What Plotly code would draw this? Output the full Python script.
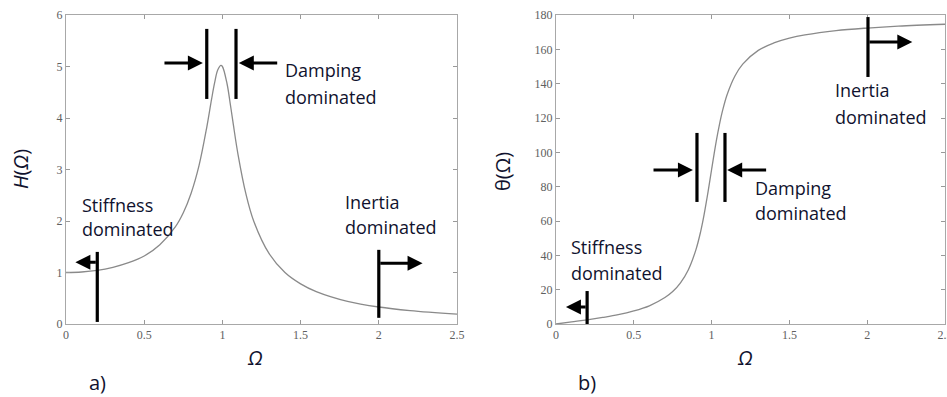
import plotly.graph_objects as go

# ---------------- data ----------------
omega = [0.0, 0.1, 0.2, 0.3, 0.4, 0.5, 0.6, 0.7, 0.75, 0.8, 0.85, 0.9, 0.93, 0.95, 0.97,
         0.99, 1.0, 1.03, 1.05, 1.07, 1.1, 1.15, 1.2, 1.3, 1.4, 1.5, 1.6, 1.8, 2.0, 2.2, 2.5]
amplitude = [1.0, 1.01, 1.04, 1.10, 1.19, 1.32, 1.54, 1.89, 2.16, 2.54, 3.07, 3.82, 4.35, 4.68, 4.93,
             5.02, 5.0, 4.66, 4.28, 3.87, 3.29, 2.53, 2.0, 1.36, 1.0, 0.78, 0.63, 0.44, 0.33, 0.26, 0.19]
phase = [0.0, 1.2, 2.4, 3.8, 5.4, 7.6, 10.6, 15.4, 18.9, 24.0, 31.5, 43.5, 54.0, 62.8, 73.1,
         84.2, 90.0, 106.5, 116.0, 124.1, 133.7, 144.5, 151.4, 159.4, 163.7, 166.5, 168.4, 170.9, 172.4, 173.5, 174.6]

x_ticks = [0, 0.5, 1, 1.5, 2, 2.5]
x_tick_text = ["0", "0.5", "1", "1.5", "2", "2.5"]
h_ticks = [0, 1, 2, 3, 4, 5, 6]
th_ticks = [0, 20, 40, 60, 80, 100, 120, 140, 160, 180]

# ---------------- styling ----------------
FW, FH = 947, 397
TXT = "#10122e"
TXT_FONT = "Open Sans"
CURVE = "#8a8a8a"


def px_x(p):
    return p / FW


def px_y(p):
    return 1 - p / FH


fig = go.Figure()
fig.add_trace(go.Scatter(x=omega, y=amplitude, mode="lines", line=dict(color=CURVE, width=1.3, shape="spline"),
                         xaxis="x", yaxis="y", showlegend=False))
fig.add_trace(go.Scatter(x=omega, y=phase, mode="lines", line=dict(color=CURVE, width=1.3, shape="spline"),
                         xaxis="x2", yaxis="y2", showlegend=False))

axis_common = dict(showgrid=False, zeroline=False, showline=True, linecolor="#a8a8a8", linewidth=1,
                   mirror="ticks", ticks="inside", ticklen=4, tickcolor="#999", automargin=False,
                   ticklabeloverflow="allow",
                   tickfont=dict(family="Liberation Serif", size=12, color="#606060"))

fig.update_layout(
    width=FW, height=FH, margin=dict(l=0, r=0, t=0, b=0), paper_bgcolor="white", plot_bgcolor="white",
    xaxis=dict(domain=[px_x(66), px_x(457)], range=[0, 2.5], tickvals=x_ticks, ticktext=x_tick_text,
               anchor="y", **axis_common),
    yaxis=dict(domain=[px_y(324), px_y(15)], range=[0, 6], tickvals=h_ticks, anchor="x", **axis_common),
    xaxis2=dict(domain=[px_x(556), px_x(945)], range=[0, 2.5], tickvals=x_ticks, ticktext=x_tick_text,
                anchor="y2", **axis_common),
    yaxis2=dict(domain=[px_y(324), px_y(15)], range=[0, 180], tickvals=th_ticks, anchor="x2", **axis_common),
)

# vertical bars  (axis suffix, x, y0, y1)
bars = [
    ("", 0.90, 4.37, 5.73), ("", 1.087, 4.37, 5.73),
    ("", 0.2, 0.04, 1.40), ("", 2.0, 0.12, 1.44),
    ("2", 0.906, 71.1, 111.3), ("2", 1.086, 71.1, 111.3),
    ("2", 0.2, -1.0, 19.2), ("2", 2.005, 143.9, 178.8),
]
for ax, x, y0, y1 in bars:
    fig.add_shape(type="line", xref="x" + ax, yref="y" + ax, x0=x, x1=x, y0=y0, y1=y1,
                  line=dict(color="black", width=3.2))

# arrows (axis suffix, tail x, head x, y)
arrows = [
    ("", 0.62, 0.875, 5.07), ("", 1.36, 1.105, 5.07),
    ("", 0.2, 0.06, 1.2), ("", 2.0, 2.28, 1.18),
    ("2", 0.617, 0.88, 89.7), ("2", 1.36, 1.10, 89.7),
    ("2", 0.2, 0.064, 9.9), ("2", 2.005, 2.29, 164.3),
]
for ax, x0, x1, y in arrows:
    fig.add_annotation(xref="x" + ax, yref="y" + ax, axref="x" + ax, ayref="y" + ax,
                       x=x1, y=y, ax=x0, ay=y, text="", showarrow=True,
                       arrowhead=2, arrowsize=1.0, arrowwidth=3, arrowcolor="black", standoff=0)

# text lines (axis suffix, left x, centre y, text)
labels = [
    ("", 1.387, 4.93, "Damping"), ("", 1.387, 4.41, "dominated"),
    ("", 0.09, 2.31, "Stiffness"), ("", 0.09, 1.84, "dominated"),
    ("", 1.77, 2.37, "Inertia"), ("", 1.77, 1.88, "dominated"),
    ("2", 1.266, 79.2, "Damping"), ("2", 1.266, 64.7, "dominated"),
    ("2", 0.084, 44.9, "Stiffness"), ("2", 0.084, 29.7, "dominated"),
    ("2", 1.78, 136.3, "Inertia"), ("2", 1.78, 120.6, "dominated"),
]
for ax, x, y, t in labels:
    fig.add_annotation(xref="x" + ax, yref="y" + ax, x=x, y=y, text=t, showarrow=False,
                       xanchor="left", yanchor="middle", font=dict(family=TXT_FONT, size=18, color=TXT))

# axis titles and panel labels (page pixels)
titles = [
    (20, 169, "<i>H</i>(<i>Ω</i>)", -90),
    (502, 172, "θ(Ω)", -90),
    (255, 357, "<i>Ω</i>", 0),
    (745, 357, "<i>Ω</i>", 0),
    (97, 382, "a)", 0),
    (587, 382, "b)", 0),
]
for x, y, t, rot in titles:
    fig.add_annotation(xref="paper", yref="paper", x=px_x(x), y=px_y(y), text=t, showarrow=False,
                       textangle=rot, xanchor="center", yanchor="middle",
                       font=dict(family=TXT_FONT, size=20, color=TXT))

fig.write_html("out.html", config={"displayModeBar": False},
               post_script="document.body.style.margin='0';document.body.style.overflow='hidden';")
